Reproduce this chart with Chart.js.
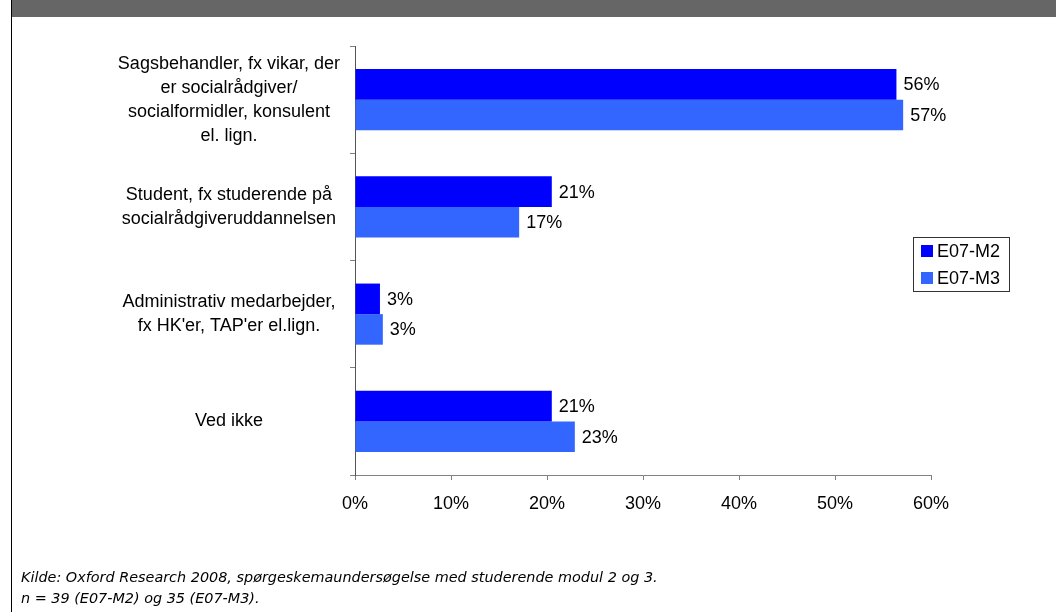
<!DOCTYPE html>
<html>
<head>
<meta charset="utf-8">
<script src="https://cdn.jsdelivr.net/npm/chart.js@4/dist/chart.umd.min.js"></script>
<style>
  html, body { margin: 0; padding: 0; background: #fff; }
  #page { position: relative; width: 1056px; height: 612px; overflow: hidden; }
  #band { position: absolute; left: 12px; top: 0; width: 1044px; height: 17px; background: #666; }
  #edge { position: absolute; left: 11px; top: 0; width: 1px; height: 612px; background: #000; }
  #wrap { position: absolute; left: 0; top: 0; width: 1056px; height: 612px; }
  #note {
    position: absolute; left: 21px; top: 567px;
    font-family: "DejaVu Sans", Verdana, sans-serif; font-style: italic;
    font-size: 14.4px; line-height: 21px; color: #000; white-space: nowrap;
  }
</style>
</head>
<body>
<div id="page">
  <div id="band"></div>
  <div id="edge"></div>
  <div id="wrap"><canvas id="chart"></canvas></div>
  <div id="note">Kilde: Oxford Research 2008, spørgeskemaundersøgelse med studerende modul 2 og 3.<br>n = 39 (E07-M2) og 35 (E07-M3).</div>
</div>
<script>
const categories = [
  ["Sagsbehandler, fx vikar, der", "er socialrådgiver/", "socialformidler, konsulent", "el. lign."],
  ["Student, fx studerende på", "socialrådgiveruddannelsen"],
  ["Administrativ medarbejder,", "fx HK'er, TAP'er el.lign."],
  "Ved ikke",
];
const seriesNames = ["E07-M2", "E07-M3"];
const m2Values = [56.4, 20.5, 2.6, 20.5];
const m3Values = [57.1, 17.1, 2.9, 22.9];
const xTicks = [0, 10, 20, 30, 40, 50, 60];

const DARK = "#0000FF";
const LIGHT = "#3366FF";
const FONT = "'Liberation Sans', Arial, sans-serif";

Chart.defaults.font.family = FONT;
Chart.defaults.font.size = 18;
Chart.defaults.color = "#000";

// value labels just right of each bar
const valueLabels = {
  id: "valueLabels",
  afterDatasetsDraw(chart) {
    const ctx = chart.ctx;
    ctx.save();
    ctx.font = "18px " + FONT;
    ctx.fillStyle = "#000";
    ctx.textAlign = "left";
    ctx.textBaseline = "middle";
    chart.data.datasets.forEach((ds, i) => {
      chart.getDatasetMeta(i).data.forEach((bar, j) => {
        ctx.fillText(Math.round(ds.data[j]) + "%", bar.x + 7, bar.y + 1);
      });
    });
    ctx.restore();
  },
};

// boxed legend on the right, like the original
const boxLegend = {
  id: "boxLegend",
  afterDraw(chart) {
    const ctx = chart.ctx;
    const left = 913, top = 237, w = 96, rowH = 27;
    ctx.save();
    ctx.fillStyle = "#fff";
    ctx.fillRect(left, top, w, 54);
    ctx.strokeStyle = "#333";
    ctx.lineWidth = 1;
    ctx.strokeRect(left + 0.5, top + 0.5, w, 54);
    ctx.font = "18px " + FONT;
    ctx.textBaseline = "middle";
    chart.data.datasets.forEach((ds, i) => {
      const cy = top + 14 + i * rowH;
      ctx.fillStyle = ds.backgroundColor;
      ctx.fillRect(left + 8, cy - 6, 12, 12);
      ctx.fillStyle = "#000";
      ctx.fillText(ds.label, left + 24, cy + 1);
    });
    ctx.restore();
  },
};

new Chart(document.getElementById("chart"), {
  type: "bar",
  data: {
    labels: categories,
    datasets: [
      { label: seriesNames[0], data: m2Values, backgroundColor: DARK },
      { label: seriesNames[1], data: m3Values, backgroundColor: LIGHT },
    ],
  },
  options: {
    indexAxis: "y",
    responsive: true,
    maintainAspectRatio: false,
    animation: false,
    layout: { padding: { top: 46, right: 125, bottom: 0, left: 0 } },
    datasets: { bar: { barPercentage: 1, categoryPercentage: 0.57 } },
    scales: {
      x: {
        min: 0,
        max: 60,
        afterBuildTicks: (scale) => { scale.ticks = xTicks.map((v) => ({ value: v })); },
        ticks: { padding: 13, callback: (v) => v + "%", maxRotation: 0 },
        grid: { drawOnChartArea: false, tickLength: 5, color: "#808080" },
        border: { color: "#808080" },
        afterFit: (scale) => { scale.height = 137; },
      },
      y: {
        ticks: { padding: 10, crossAlign: "center", font: { lineHeight: 1.33 } },
        grid: { drawOnChartArea: false, tickLength: 5, color: "#808080", offset: true },
        border: { color: "#555" },
        afterFit: (scale) => { scale.width = 355; },
      },
    },
    plugins: {
      legend: { display: false },
      tooltip: { enabled: false },
    },
  },
  plugins: [valueLabels, boxLegend],
});
</script>
</body>
</html>
